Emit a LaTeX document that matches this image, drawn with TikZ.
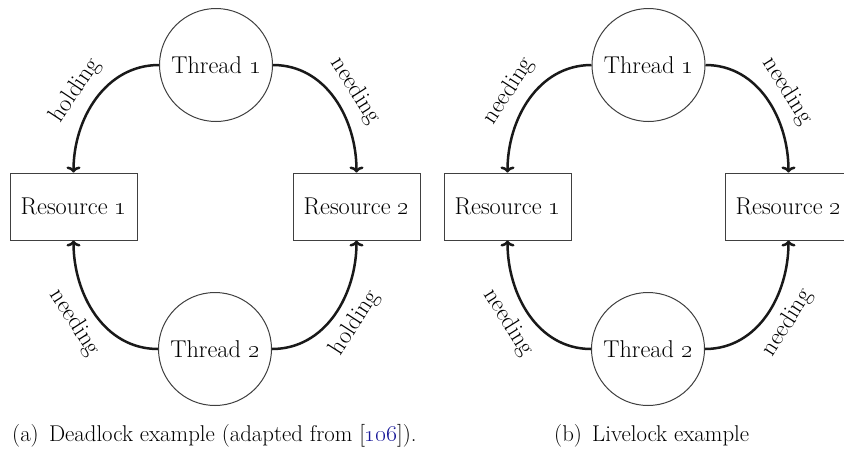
\RequirePackage{fix-cm}
\documentclass[tikz,border=0pt]{standalone}
\usetikzlibrary{arrows.meta}
\definecolor{citeblue}{rgb}{0.1,0.1,0.6}
\definecolor{ink}{rgb}{0.1,0.1,0.1}
\newcommand{\osn}[1]{\oldstylenums{#1}}
\tikzset{
  lbl/.style={font=\fontsize{24.3}{29}\selectfont, text=black},
  thread/.style={lbl, draw=black!75, circle, minimum size=113pt, inner sep=0pt, line width=1pt},
  res/.style={lbl, draw=black!75, rectangle, minimum width=127pt, minimum height=67pt, inner sep=0pt, line width=1pt},
  conn/.style={draw=ink, line width=2.5pt, -{Computer Modern Rightarrow[length=6pt,width=14pt]}},
  edgelab/.style={lbl, sloped, pos=0.53, inner sep=9.5pt},
  captext/.style={font=\fontsize{22.8}{27}\selectfont, text=black, inner sep=0pt},
}
\begin{document}
\begin{tikzpicture}[x=1pt,y=1pt]
  \useasboundingbox (0,0) rectangle (844,-451);
  \clip (0,0) rectangle (844,-451);

  % (a) deadlock
  \node[thread] (at1) at (216,-65) {Thread \osn{1}};
  \node[res] (ar1) at (73.5,-206.5) {Resource \osn{1}};
  \node[res] (ar2) at (356.5,-206.5) {Resource \osn{2}};
  \node[thread] (at2) at (215,-349) {Thread \osn{2}};

  \draw[conn] (at1.west) to[out=180,in=90] node[edgelab,above] {holding} (ar1.north);
  \draw[conn] (at1.east) to[out=0,in=90] node[edgelab,above] {needing} (ar2.north);
  \draw[conn] (at2.west) to[out=180,in=-90] node[edgelab,below] {needing} (ar1.south);
  \draw[conn] (at2.east) to[out=0,in=-90] node[edgelab,below] {holding} (ar2.south);

  % (b) livelock
  \node[thread] (bt1) at (648.5,-65) {Thread \osn{1}};
  \node[res] (br1) at (507.5,-206.5) {Resource \osn{1}};
  \node[res] (br2) at (788.5,-206.5) {Resource \osn{2}};
  \node[thread] (bt2) at (648,-349) {Thread \osn{2}};

  \draw[conn] (bt1.west) to[out=180,in=90] node[edgelab,above] {needing} (br1.north);
  \draw[conn] (bt1.east) to[out=0,in=90] node[edgelab,above] {needing} (br2.north);
  \draw[conn] (bt2.west) to[out=180,in=-90] node[edgelab,below] {needing} (br1.south);
  \draw[conn] (bt2.east) to[out=0,in=-90] node[edgelab,below] {needing} (br2.south);

  % captions
  \node[captext, anchor=base west] (capa) at (12,-441)
    {(a)\hspace{0.45em}Deadlock example (adapted from [\textcolor{citeblue}{\osn{106}}]).};
  \node[captext, anchor=base west] (capb) at (554,-441)
    {(b)\hspace{0.45em}Livelock example};
\end{tikzpicture}
\end{document}
